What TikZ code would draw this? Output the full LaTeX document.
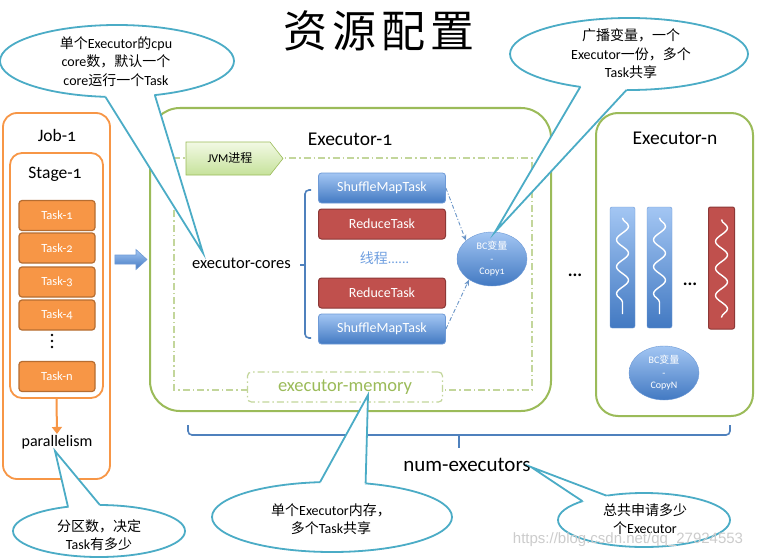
\documentclass[tikz,border=0pt]{standalone}
\usepackage{fontspec}
\setmainfont{Carlito}[Numbers=OldStyle]
\newfontfamily\cjk{Noto Sans CJK SC}
\newfontfamily\wmfont{Liberation Sans}
\newcommand\zh[1]{{\cjk #1}}
\usetikzlibrary{arrows.meta,shapes.geometric,decorations.pathmorphing,calc}
\definecolor{jorange}{HTML}{F79646}
\definecolor{jorangeD}{HTML}{B66D31}
\definecolor{egreen}{HTML}{9BBB59}
\definecolor{lgreen}{HTML}{C3D69B}
\definecolor{cteal}{HTML}{4BACC6}
\definecolor{tblue}{HTML}{4F81BD}
\definecolor{tblueL}{HTML}{A3C6F3}
\definecolor{tblueD}{HTML}{4279C2}
\definecolor{tblueB}{HTML}{6E9AD6}
\definecolor{tred}{HTML}{C0504D}
\definecolor{tredD}{HTML}{8C3836}
\definecolor{jvmL}{HTML}{F2F9E4}
\definecolor{jvmD}{HTML}{C6E29B}
\definecolor{thr}{HTML}{6F9FE0}
\tikzset{
  lbl/.style={inner sep=1pt},
  obox/.style={draw=jorange, line width=1.8pt, rounded corners=14pt},
  taskbox/.style={draw=jorangeD, fill=jorange, line width=1.2pt, rounded corners=3pt,
    minimum width=76pt, minimum height=30pt, text=white, font=\fontsize{12.5}{12.5}\selectfont},
  gbox/.style={draw=egreen, line width=2pt},
  dashdot/.style={draw=lgreen, line width=1.2pt, dash pattern=on 7pt off 3pt on 1.5pt off 3pt},
  bluetask/.style={draw=tblueB, top color=tblueL, bottom color=tblueD, line width=0.8pt,
    rounded corners=3pt, minimum width=127pt, minimum height=30pt, text=white,
    font=\fontsize{14}{14}\selectfont},
  redtask/.style={draw=tredD, fill=tred, line width=1pt, rounded corners=3pt,
    minimum width=127pt, minimum height=30pt, text=white, font=\fontsize{14}{14}\selectfont},
  bcvar/.style={ellipse, draw=tblueB, top color=tblueL, bottom color=tblueD, inner sep=0pt,
    minimum width=70pt, minimum height=54pt, text=white, align=center,
    font=\fontsize{10}{12.5}\selectfont},
  thread/.style={draw=tblueB, top color=tblueL, bottom color=tblueD, rounded corners=2pt,
    minimum width=25pt, minimum height=121pt},
  redthread/.style={draw=tredD, fill=tred, line width=1pt, rounded corners=2pt,
    minimum width=26pt, minimum height=122pt},
  wave/.style={draw=white, line width=1.4pt, decorate,
    decoration={snake, amplitude=6pt, segment length=27pt}},
  bracestyle/.style={draw=tblue, line width=1.6pt, rounded corners=4pt},
  dasharrow/.style={draw=tblue!85, line width=0.9pt, dash pattern=on 4pt off 2pt on 1pt off 2pt,
    -{Stealth[length=6pt,width=5pt,open]}},
  callout/.style={ellipse, draw=cteal, line width=1.8pt, fill=white, inner sep=0pt, outer sep=0pt},
  tailline/.style={draw=cteal, line width=1.8pt, line join=miter},
  ctext/.style={align=center, inner sep=0pt, font=\fontsize{14}{18.5}\selectfont},
}
\begin{document}
\begin{tikzpicture}[x=1pt,y=-1pt]
\useasboundingbox (0,0) rectangle (759,559);
\fill[white] (0,0) rectangle (759,559);

% title
\node[inner sep=0pt, font=\cjk\fontsize{44}{44}\selectfont] (title) at (379,31)
  {资\hspace{5pt}源\hspace{5pt}配\hspace{5pt}置};

% Job / Stage
\node[obox, minimum width=107pt, minimum height=366pt] (job) at (56.5,296) {};
\node[lbl, font=\fontsize{17.5}{20}\selectfont] (joblbl) at (57,135) {Job-1};
\node[obox, rounded corners=12pt, minimum width=93pt, minimum height=245pt] (stage) at (56.5,275.5) {};
\node[lbl, font=\fontsize{17.5}{20}\selectfont] (stagelbl) at (55,174) {Stage-1};
\node[taskbox] (t1) at (57,215.5) {Task-1};
\node[taskbox] (t2) at (57,248) {Task-2};
\node[taskbox] (t3) at (57,282) {Task-3};
\node[taskbox] (t4) at (57,315) {Task-4};
\foreach \yy in {335,341,347} \fill (52,\yy) circle (1.4pt);
\node[taskbox] (tn) at (57,376.5) {Task-n};
\node[lbl, font=\fontsize{16}{16}\selectfont] (par) at (57,442) {parallelism};
\draw[jorange, line width=2pt, -{Triangle[length=7pt,width=10pt]}] (stage.south) -- (par.north);

% Executor-1
\node[gbox, rounded corners=30pt, minimum width=401pt, minimum height=303pt] (exe1) at (350.5,259.5) {};
\node[lbl, font=\fontsize{19.5}{20}\selectfont] (exe1lbl) at (350,139) {Executor-1};

% block arrow job -> executor
\coordinate (ja) at ($(job.east |- exe1.west)+(4,0)$);
\coordinate (jb) at ($(exe1.west)+(-2,0)$);
\shade[top color=tblueL, bottom color=tblueD, draw=tblueB, line width=0.6pt]
  (ja) ++(0,-4.5) -- ($(jb)+(-11,-4.5)$) -- ($(jb)+(-11,-10)$) -- (jb)
  -- ($(jb)+(-11,10)$) -- ($(jb)+(-11,4.5)$) -- ($(ja)+(0,4.5)$) -- cycle;

% JVM process area
\node[inner sep=0pt, outer sep=0pt, minimum width=195pt, minimum height=30pt] (memarea) at (345,387) {};
\draw[dashdot] (memarea.west |- 0,390) -- (174,390) -- (174,158) -- (532,158) -- (532,390) -- (memarea.east |- 0,390);
\shade[top color=jvmL, bottom color=jvmD, draw=egreen, line width=0.6pt]
  (186,142) -- (270,142) -- (283,158.5) -- (270,175) -- (186,175) -- cycle;
\node[lbl, font=\fontsize{12}{12}\selectfont] (jvm) at (230,158.5) {JVM\zh{进程}};
\node[dashdot, rounded corners=4pt, minimum width=195pt, minimum height=30pt, text=egreen,
  font=\fontsize{18.5}{18.5}\selectfont] (mem) at (345,387) {executor-memory};

% cores
\node[lbl, font=\fontsize{16.5}{16.5}\selectfont] (cores) at (241.5,263) {executor-cores};
\draw[bracestyle] (311,190) -- (305,190) -- (305,338) -- (311,338);
\draw[bracestyle, rounded corners=0pt] (305,265) -- (300,265);

\node[bluetask] (smt1) at (382,188) {ShuffleMapTask};
\node[redtask] (rt1) at (382,224) {ReduceTask};
\node[lbl, text=thr, font=\fontsize{14}{14}\selectfont] (thr) at (384.5,258) {\zh{线程}......};
\node[redtask] (rt2) at (382,293) {ReduceTask};
\node[bluetask] (smt2) at (382,329) {ShuffleMapTask};

\node[bcvar] (bc) at (492,259) {BC\zh{变量}\\-\\Copy1};
\draw[dasharrow] (smt1.east) -- (bc.145);
\draw[dasharrow] (smt2.east) -- (bc.222);

% dots between executors
\node[lbl, font=\fontsize{18}{18}\selectfont\bfseries] (dots1) at (575,275) {...};

% Executor-n
\node[gbox, rounded corners=22pt, minimum width=157pt, minimum height=303pt] (exen) at (674.5,264.5) {};
\node[lbl, font=\fontsize{19.5}{20}\selectfont] (exenlbl) at (675,138) {Executor-n};
\node[thread] (b1) at (622.5,267.5) {};
\node[thread] (b2) at (659.5,267.5) {};
\node[redthread] (b3) at (721.5,268) {};
\draw[wave] ($(b1.north)+(0,11)$) -- ($(b1.south)+(0,-14)$);
\draw[wave] ($(b2.north)+(0,11)$) -- ($(b2.south)+(0,-14)$);
\draw[wave] ($(b3.north)+(0,13)$) -- ($(b3.south)+(0,-12)$);
\node[lbl, font=\fontsize{18}{18}\selectfont\bfseries] (dots2) at (690,284) {...};
\node[bcvar] (bcn) at (664,373) {BC\zh{变量}\\-\\CopyN};

% bottom brace
\coordinate (bl) at (188,425);
\coordinate (br) at (730,425);
\coordinate (bm) at (459,448);
\draw[bracestyle] (bl) -- (bl |- 0,435) -- (br |- 0,435) -- (br);
\draw[bracestyle, rounded corners=0pt] (bm |- 0,435) -- (bm);
\node[lbl, font=\fontsize{21}{21}\selectfont] (numexe) at (467,465) {num-executors};

% callout 1
\node[callout, minimum width=234pt, minimum height=72pt] (c1) at (117,61) {};
\coordinate (p1) at (203,253);
\fill[white] (c1.252) -- (p1) -- (c1.318) -- (c1.center) -- cycle;
\draw[tailline] (c1.252) -- (p1) -- (c1.318);
\node[ctext] (c1t) at (116,61.5) {\zh{单个}Executor\zh{的}cpu\\core\zh{数，默认一个}\\core\zh{运行一个}Task};

% callout 2
\node[callout, minimum width=238pt, minimum height=72pt] (c2) at (629,54) {};
\coordinate (p2) at (495,232);
\fill[white] (c2.214) -- (p2) -- (c2.266) -- (c2.center) -- cycle;
\draw[tailline] (c2.214) -- (p2) -- (c2.266);
\node[ctext] (c2t) at (631,54) {\zh{广播变量，一个}\\Executor\zh{一份，多个}\\Task\zh{共享}};

% callout 3
\node[callout, minimum width=172pt, minimum height=52pt] (c3) at (99,531) {};
\coordinate (p3) at (55,451);
\fill[white] (c3.142) -- (p3) -- (c3.88) -- (c3.center) -- cycle;
\draw[tailline] (c3.142) -- (p3) -- (c3.88);
\node[ctext] (c3t) at (99,535) {\zh{分区数，决定}\\Task\zh{有多少}};

% callout 4
\node[callout, minimum width=240pt, minimum height=70pt] (c4) at (332,517) {};
\coordinate (p4) at (368,395);
\fill[white] (c4.109) -- (p4) -- (c4.45) -- (c4.center) -- cycle;
\draw[tailline] (c4.109) -- (p4) -- (c4.45);
\node[ctext] (c4t) at (331,519) {\zh{单个}Executor\zh{内存，}\\\zh{多个}Task\zh{共享}};

% callout 5
\node[callout, minimum width=172pt, minimum height=54pt] (c5) at (644,520) {};
\coordinate (p5) at (531,467);
\fill[white] (c5.163) -- (p5) -- (c5.147) -- (c5.center) -- cycle;
\draw[tailline] (c5.163) -- (p5) -- (c5.147);
\node[ctext] (c5t) at (645,519) {\zh{总共申请多少}\\\zh{个}Executor};

% watermark
\node[inner sep=0pt, text=gray!40, font=\wmfont\fontsize{15}{15}\selectfont] (wm) at (628,540) {https://blog.csdn.net/qq\_27924553};
\end{tikzpicture}
\end{document}
